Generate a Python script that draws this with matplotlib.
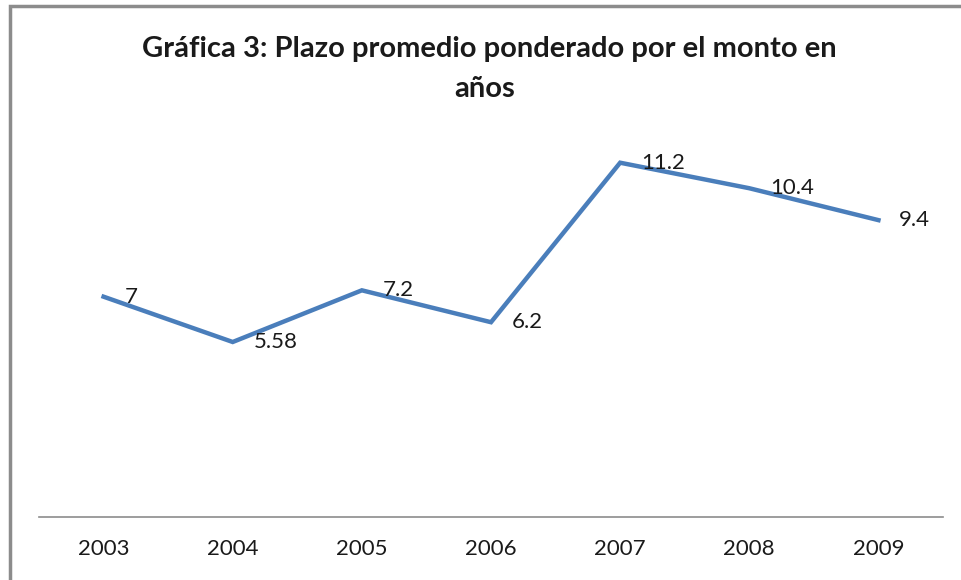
import matplotlib.pyplot as plt
from matplotlib.patches import Rectangle

years = ['2003', '2004', '2005', '2006', '2007', '2008', '2009']
plazo = [7, 5.58, 7.2, 6.2, 11.2, 10.4, 9.4]
etiquetas = ['7', '5.58', '7.2', '6.2', '11.2', '10.4', '9.4']

plt.rcParams['font.family'] = ['Lato', 'DejaVu Sans']

fig = plt.figure(figsize=(9.61, 5.8), dpi=100)
# chart frame (cut on right and bottom like the screenshot)
fig.patches.append(Rectangle((10 / 961, -0.1), 1.2, 1 - 6 / 580 + 0.1,
                             transform=fig.transFigure, fill=False,
                             edgecolor='#8c8c8c', linewidth=2.5))

ax = fig.add_axes([39 / 961, 63 / 580, 904 / 961, (517 - 134) / 580])
x = range(len(years))
ax.plot(x, plazo, color='#4a7ebb', linewidth=3.2, solid_joinstyle='miter')

for i, (v, t) in enumerate(zip(plazo, etiquetas)):
    ax.annotate(t, (i, v), xytext=(15, 0), textcoords='offset points',
                ha='left', va='center', fontsize=16, color='#1a1a1a')

ax.set_xlim(-0.5, 6.5)
ax.set_ylim(0.094, 12.1)
ax.set_xticks(list(x))
ax.set_xticklabels(years, fontsize=16, color='#1a1a1a')
ax.tick_params(axis='x', length=0, pad=16)
ax.set_yticks([])
for s in ['left', 'right', 'top']:
    ax.spines[s].set_visible(False)
ax.spines['bottom'].set_color('#8c8c8c')
ax.spines['bottom'].set_linewidth(1.2)

fig.text(489 / 961, 1 - 49 / 580, 'Gráfica 3: Plazo promedio ponderado por el monto en',
         ha='center', va='center', fontsize=21, fontweight='bold', color='#1a1a1a')
fig.text(485 / 961, 1 - 89 / 580, 'años',
         ha='center', va='center', fontsize=21, fontweight='bold', color='#1a1a1a')

fig.savefig('out.png', dpi=100)
